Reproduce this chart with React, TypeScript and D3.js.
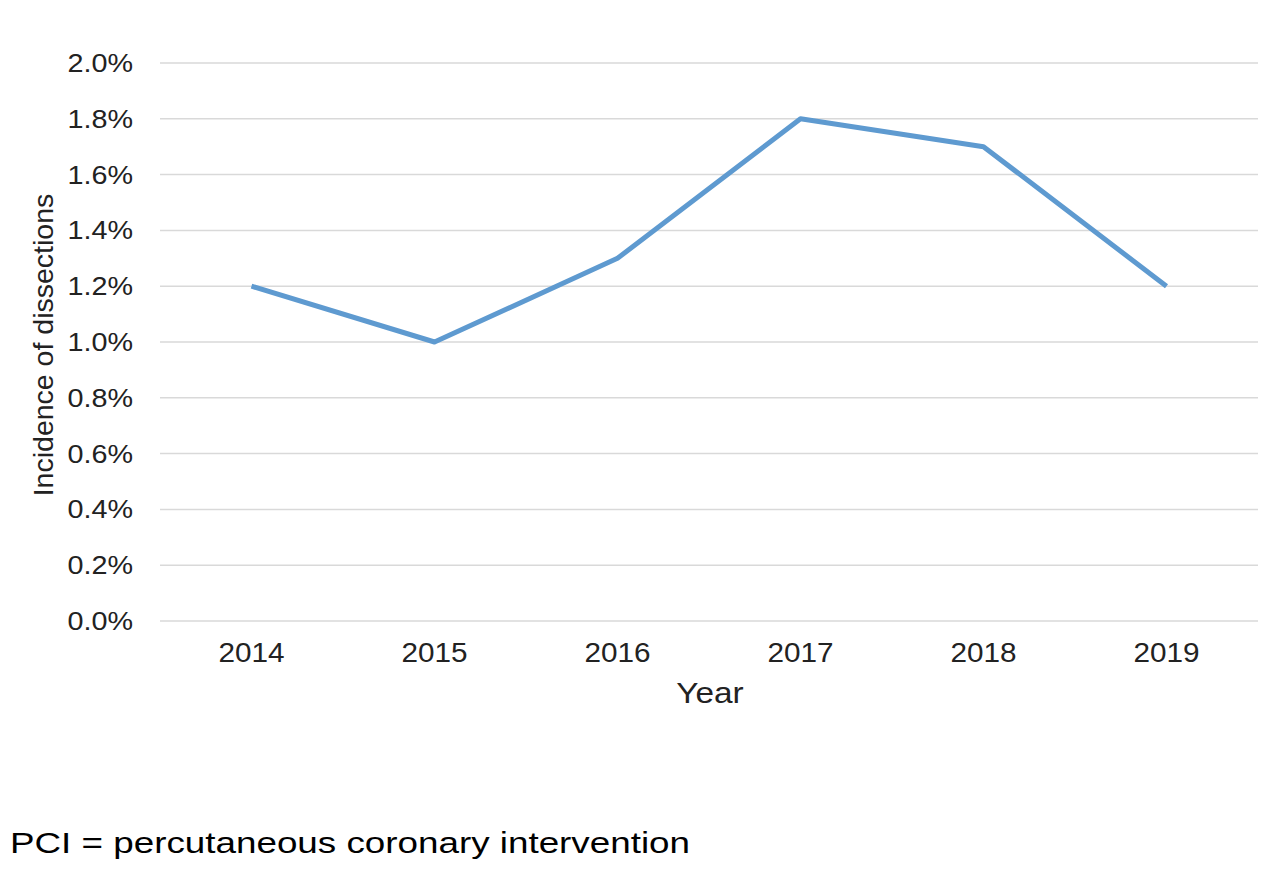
import React from "react";
import * as d3 from "d3";

const years = ["2014", "2015", "2016", "2017", "2018", "2019"];
const incidence = [1.2, 1.0, 1.3, 1.8, 1.7, 1.2];
const yTicks = [0, 0.2, 0.4, 0.6, 0.8, 1.0, 1.2, 1.4, 1.6, 1.8, 2.0];

export default function App() {
  const W = 1284, H = 880;
  const left = 160, right = 1258, top = 63, bottom = 621;
  const x = d3.scalePoint<string>().domain(years).range([left, right]).padding(0.5);
  const y = d3.scaleLinear().domain([0, 2.0]).range([bottom, top]);
  const line = d3.line<number>().x((_, i) => x(years[i])!).y((d) => y(d));
  const font = "'Liberation Sans', Arial, sans-serif";
  const sx = 1.15;
  return (
    <svg width={W} height={H} style={{ position: "absolute", left: 0, top: 0, background: "#fff" }} fontFamily={font}>
      {yTicks.map((t) => (
        <g key={t}>
          <line x1={left} x2={right} y1={y(t)} y2={y(t)} stroke="#d9d9d9" strokeWidth={1.5} />
          <text transform={`translate(133,${y(t)}) scale(${sx},1)`} dy="0.36em" textAnchor="end" fontSize={25} fill="#222">
            {t.toFixed(1)}%
          </text>
        </g>
      ))}
      {years.map((yr) => (
        <text key={yr} transform={`translate(${x(yr)},662) scale(1.1,1)`} textAnchor="middle" fontSize={27} fill="#222">
          {yr}
        </text>
      ))}
      <path d={line(incidence)!} fill="none" stroke="#5e9ad0" strokeWidth={5} strokeLinejoin="round" />
      <text transform={`translate(710,703) scale(${sx},1)`} textAnchor="middle" fontSize={29} fill="#222">Year</text>
      <text transform={`translate(53,345) rotate(-90)`} textAnchor="middle" fontSize={28.5} fill="#222">
        Incidence of dissections
      </text>
      <text x={10} y={853} fontSize={30} fill="#000" textLength={680} lengthAdjust="spacingAndGlyphs">
        PCI = percutaneous coronary intervention
      </text>
    </svg>
  );
}
